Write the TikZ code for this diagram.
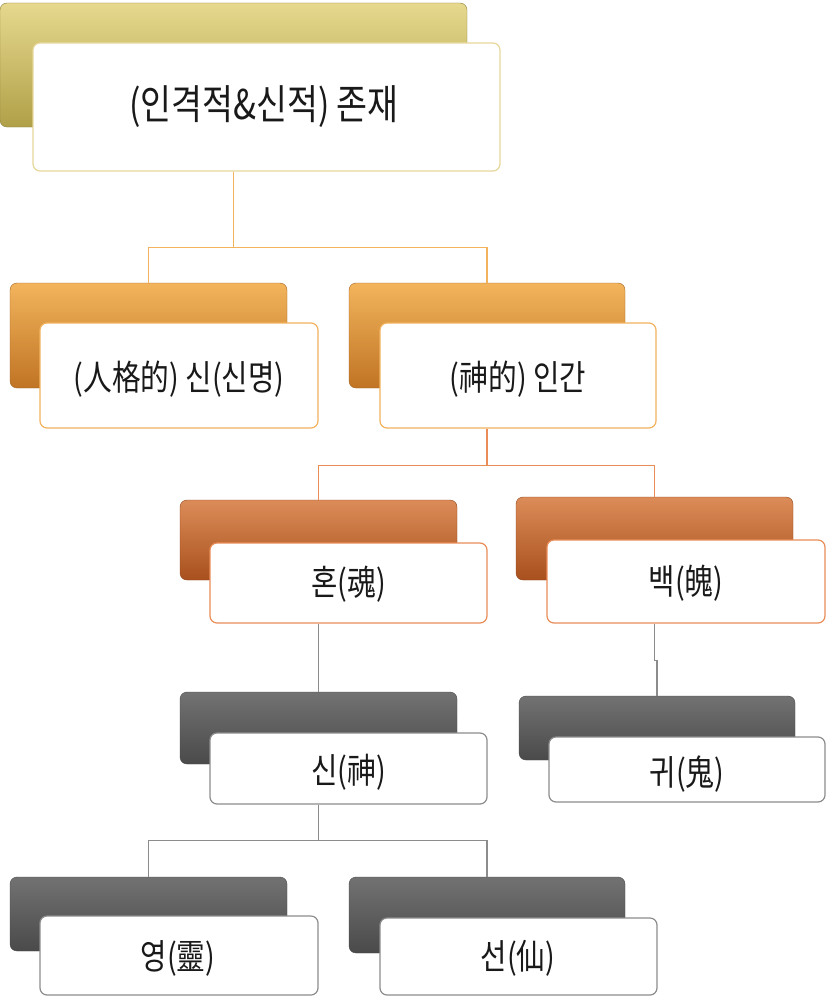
\documentclass[tikz,border=0pt]{standalone}
\usepackage{fontspec}
\newfontfamily\kr{Noto Sans CJK KR}
\usetikzlibrary{calc}
\usetikzlibrary{positioning}

\definecolor{goldtop}{HTML}{E6D98E}
\definecolor{goldbot}{HTML}{B0A048}
\definecolor{goldline}{HTML}{E6D69A}
\definecolor{orgtop}{HTML}{F2B45C}
\definecolor{orgbot}{HTML}{C07424}
\definecolor{orgline}{HTML}{F2B25E}
\definecolor{rsttop}{HTML}{DC8C58}
\definecolor{rstbot}{HTML}{A8501E}
\definecolor{rstline}{HTML}{E98C58}
\definecolor{gratop}{HTML}{727272}
\definecolor{grabot}{HTML}{4A4A4A}
\definecolor{graline}{HTML}{8C8C8C}

\newcommand{\lbl}[2]{\scalebox{0.82}[1]{\fontsize{#1}{#1}\selectfont\kr #2}}

\begin{document}
\begin{tikzpicture}[
    x=1pt, y=-1pt,
    back/.style={rectangle, rounded corners=7pt, inner sep=0pt},
    front/.style={rectangle, rounded corners=7pt, fill=white, line width=1.2pt, inner sep=0pt},
    backgold/.style={back, top color=goldtop, bottom color=goldbot, draw=goldbot!80!black},
    frontgold/.style={front, draw=goldline},
    backorg/.style={back, top color=orgtop, bottom color=orgbot, draw=orgbot!85!black},
    frontorg/.style={front, draw=orgline},
    backrst/.style={back, top color=rsttop, bottom color=rstbot, draw=rstbot!85!black},
    frontrst/.style={front, draw=rstline},
    backgra/.style={back, top color=gratop, bottom color=grabot, draw=grabot},
    frontgra/.style={front, draw=graline},
    label/.style={inner sep=0pt, text=black!90},
    orgedge/.style={line width=1.3pt, orgline},
    rstedge/.style={line width=1.3pt, rstline},
    graedge/.style={line width=1.3pt, graline},
]
    \useasboundingbox (0,0) rectangle (827,998);

    % --- Level 1: top box ---
    \node[backgold, minimum width=467pt, minimum height=124pt] (b1) at (233.5,65) {};
    \node[frontgold, minimum width=467pt, minimum height=128pt] (f1) at (266.5,107) {};
    \node[label] (t1) at (264,107) {\lbl{41}{(인격적\&신적) 존재}};

    % --- Level 2 ---
    \node[backorg, minimum width=277pt, minimum height=105pt] (b2a) at (148.5,335.5) {};
    \node[frontorg, minimum width=278pt, minimum height=105pt] (f2a) at (179,375.5) {};
    \node[label] (t2a) at (179,379) {\lbl{35}{(人格的) 신(신명)}};

    \node[backorg, minimum width=276pt, minimum height=105pt] (b2b) at (487,335.5) {};
    \node[frontorg, minimum width=276pt, minimum height=105pt] (f2b) at (518,375.5) {};
    \node[label] (t2b) at (518,379) {\lbl{35}{(神的) 인간}};

    % --- Level 3 ---
    \node[backrst, minimum width=277pt, minimum height=80pt] (b3a) at (318.5,540) {};
    \node[frontrst, minimum width=277pt, minimum height=80pt] (f3a) at (348.5,583) {};
    \node[label] (t3a) at (348.5,584) {\lbl{35}{혼(魂)}};

    \node[backrst, minimum width=277pt, minimum height=83pt] (b3b) at (654.5,538.5) {};
    \node[frontrst, minimum width=278pt, minimum height=83pt] (f3b) at (686,581.5) {};
    \node[label] (t3b) at (686,583) {\lbl{35}{백(魄)}};

    % --- Level 4 ---
    \node[backgra, minimum width=277pt, minimum height=72pt] (b4a) at (318.5,728) {};
    \node[frontgra, minimum width=277pt, minimum height=71pt] (f4a) at (348.5,768.5) {};
    \node[label] (t4a) at (348.5,772) {\lbl{35}{신(神)}};

    \node[backgra, minimum width=276pt, minimum height=64pt] (b4b) at (657,728) {};
    \node[frontgra, minimum width=276pt, minimum height=65pt] (f4b) at (687,769.5) {};
    \node[label] (t4b) at (687,774) {\lbl{35}{귀(鬼)}};

    % --- Level 5 ---
    \node[backgra, minimum width=277pt, minimum height=74pt] (b5a) at (148.5,914) {};
    \node[frontgra, minimum width=278pt, minimum height=79pt] (f5a) at (179,955.5) {};
    \node[label] (t5a) at (178,958) {\lbl{35}{영(靈)}};

    \node[backgra, minimum width=276pt, minimum height=76pt] (b5b) at (487,915) {};
    \node[frontgra, minimum width=277pt, minimum height=77pt] (f5b) at (518.5,956.5) {};
    \node[label] (t5b) at (518,958) {\lbl{35}{선(仙)}};

    % --- Connectors ---
    \coordinate (j1) at ($(b1.south |- f1.south)+(0,76)$);
    \draw[orgedge] (b1.south |- f1.south) -- (j1);
    \draw[orgedge] (j1) -| (b2a.north);
    \draw[orgedge] (j1) -| (b2b.north);

    \coordinate (j2) at ($(b2b.south |- f2b.south)+(0,37)$);
    \draw[rstedge] (b2b.south |- f2b.south) -- (j2);
    \draw[rstedge] (j2) -| (b3a.north);
    \draw[rstedge] (j2) -| (b3b.north);

    \draw[graedge] (b3a.south |- f3a.south) -- (b4a.north);
    \coordinate (j3) at ($(b3b.south |- f3b.south)+(0,37)$);
    \draw[graedge] (b3b.south |- f3b.south) -- (j3) -| (b4b.north);

    \coordinate (j4) at ($(b4a.south |- f4a.south)+(0,36)$);
    \draw[graedge] (b4a.south |- f4a.south) -- (j4);
    \draw[graedge] (j4) -| (b5a.north);
    \draw[graedge] (j4) -| (b5b.north);

\end{tikzpicture}
\end{document}
